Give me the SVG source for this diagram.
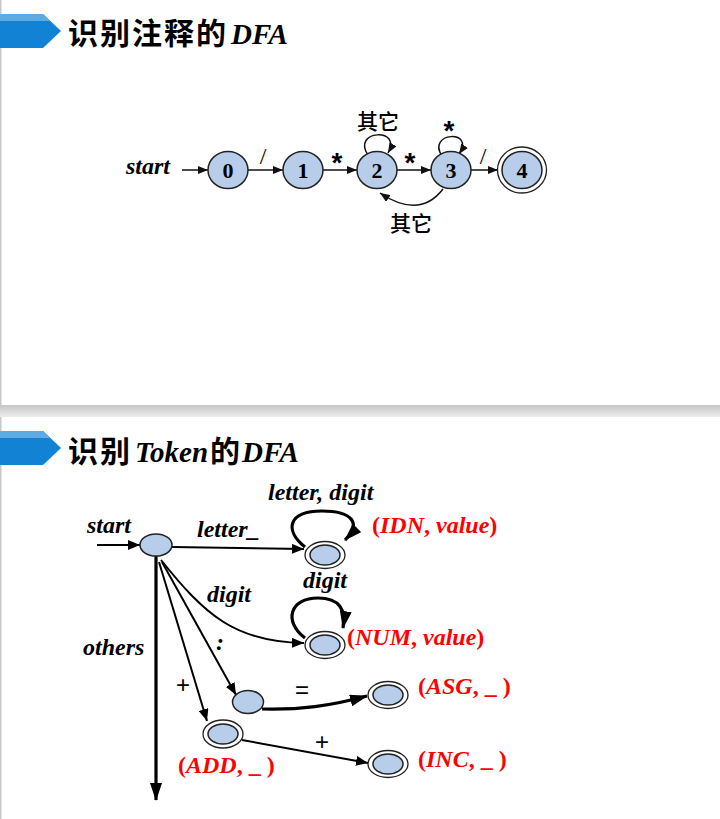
<svg xmlns="http://www.w3.org/2000/svg" width="720" height="819" viewBox="0 0 720 819">
<style>
.st{fill:#b7cdea;stroke:#222;stroke-width:1.5}
.ring{fill:#fff;stroke:#222;stroke-width:1.3}
.e{stroke:#111;stroke-width:1.5;fill:none}
.b{stroke:#000;stroke-width:2;fill:none}
.bt{stroke:#000;stroke-width:3.2;fill:none}
.num{font-family:"Liberation Serif",serif;font-weight:bold;font-size:22px;text-anchor:middle;fill:#000}
.sl{font-family:"Liberation Serif",serif;font-size:24px;text-anchor:middle;fill:#000}
.lab{font-family:"Liberation Serif",serif;font-weight:bold;font-style:italic;font-size:24px;fill:#000}
.red{font-family:"Liberation Serif",serif;font-weight:bold;font-size:24px;fill:#f00}
.it{font-style:italic}
.cn{font-family:"Noto Sans CJK SC",sans-serif;font-weight:500;font-size:21px;fill:#000;text-anchor:middle}
.ttl{font-family:"Noto Sans CJK SC",sans-serif;font-weight:bold;font-size:30px;fill:#000}
.ttle{font-family:"Liberation Serif",serif;font-weight:bold;font-style:italic;font-size:29px}
.sym{font-family:"Liberation Sans",sans-serif;font-size:24px;fill:#000;text-anchor:middle}
.ast{font-family:"Liberation Sans",sans-serif;font-weight:bold;font-size:28px;fill:#000;text-anchor:middle}
</style>
<defs>
<linearGradient id="sep" x1="0" y1="0" x2="0" y2="1">
<stop offset="0" stop-color="#c6c6c6"/>
<stop offset="1" stop-color="#ededed"/>
</linearGradient>
<marker id="a" markerUnits="userSpaceOnUse" markerWidth="10" markerHeight="8" refX="10" refY="4" orient="auto">
<path d="M0,0 L10,4 L0,8 z" fill="#111"/>
</marker>
<marker id="ab" markerUnits="userSpaceOnUse" markerWidth="12" markerHeight="10" refX="12" refY="5" orient="auto">
<path d="M0,0 L12,5 L0,10 z" fill="#000"/>
</marker>
<marker id="abig" markerUnits="userSpaceOnUse" markerWidth="18" markerHeight="12" refX="17" refY="6" orient="auto">
<path d="M0,0 L18,6 L0,12 z" fill="#000"/>
</marker>
</defs>
<rect width="720" height="819" fill="#fff"/>
<rect x="0" y="0" width="1.5" height="819" fill="#c8c8c8"/>
<rect x="0" y="405" width="720" height="12" fill="url(#sep)"/>
<g id="header1">
<polygon points="0,14 43,14 61,31 43,48 0,48" fill="#1283d4"/>
<polygon points="0,14 43,14 50,21 0,21" fill="#5eaae3"/>
<text y="44"><tspan class="ttl" x="68" letter-spacing="2">识别注释的</tspan><tspan class="ttle" x="231">DFA</tspan></text>
</g>
<g id="header2">
<polygon points="0,431 43,431 61,448 43,465 0,465" fill="#1283d4"/>
<polygon points="0,431 43,431 50,438 0,438" fill="#5eaae3"/>
<text y="462"><tspan class="ttl" x="68" letter-spacing="2">识别</tspan><tspan class="ttle" x="135">Token</tspan><tspan class="ttl" x="210">的</tspan><tspan class="ttle" x="242">DFA</tspan></text>
</g>
<g id="connectors">
<line class="e" x1="182" y1="170" x2="208" y2="170" marker-end="url(#a)"/>
<line class="e" x1="248" y1="170" x2="283" y2="170" marker-end="url(#a)"/>
<line class="e" x1="323" y1="170" x2="357" y2="170" marker-end="url(#a)"/>
<line class="e" x1="397" y1="170" x2="431" y2="170" marker-end="url(#a)"/>
<line class="e" x1="471" y1="170" x2="498" y2="170" marker-end="url(#a)"/>
<path class="e" d="M368,155 C351,130 403,127 388,153" marker-end="url(#a)"/>
<path class="e" d="M442,156 C426,132 476,129 459,154" marker-end="url(#a)"/>
<path class="e" d="M443,189 C430,206 410,213 380,193" marker-end="url(#a)"/>
<line class="b" x1="97" y1="545" x2="140" y2="545" marker-end="url(#ab)"/>
<line class="b" x1="172" y1="547" x2="304" y2="549" marker-end="url(#ab)"/>
<path class="bt" d="M305,547 C284,530 288,511 322,511 C352,511 362,523 345,540" marker-end="url(#abig)"/>
<path class="bt" d="M305,638 C283,621 290,598 318,598 C340,598 346,610 343,628" marker-end="url(#abig)"/>
<path class="b" d="M161,560 C205,615 235,642 304,643" marker-end="url(#ab)"/>
<line class="bt" x1="156" y1="556" x2="156" y2="800" marker-end="url(#abig)"/>
<line class="b" x1="162" y1="562" x2="236" y2="695" marker-end="url(#ab)"/>
<line class="b" x1="159" y1="562" x2="207" y2="721" marker-end="url(#ab)"/>
<path class="bt" d="M262,709 C300,710 330,706 367,696" marker-end="url(#abig)"/>
<line class="b" x1="242" y1="740" x2="368" y2="763" marker-end="url(#ab)"/>
</g>
<g id="edge-labels">
<text class="lab" x="126" y="174">start</text>
<text class="sl" x="263" y="164">/</text>
<text class="ast" x="337" y="172">*</text>
<text class="ast" x="410" y="172">*</text>
<text class="sl" x="483" y="164">/</text>
<text class="cn" x="378" y="129">其它</text>
<text class="ast" x="449" y="140">*</text>
<text class="cn" x="411" y="231">其它</text>
<text class="lab" x="87" y="533">start</text>
<text class="lab" x="197" y="537">letter_</text>
<text class="lab" x="268" y="500">letter, digit</text>
<text class="lab" x="303" y="588">digit</text>
<text class="lab" x="207" y="602">digit</text>
<text class="lab" x="83" y="655">others</text>
<text class="lab" x="220" y="650" text-anchor="middle" font-style="normal">:</text>
<text class="sym" x="183" y="693">+</text>
<text class="sym" x="302" y="698">=</text>
<text class="sym" x="322" y="750">+</text>
</g>
<g id="n0"><ellipse class="st" cx="228" cy="170" rx="20" ry="18.5"/><text class="num" x="228" y="178">0</text></g>
<g id="n1"><ellipse class="st" cx="303" cy="170" rx="20" ry="18.5"/><text class="num" x="303" y="178">1</text></g>
<g id="n2"><ellipse class="st" cx="377" cy="170" rx="20" ry="18.5"/><text class="num" x="377" y="178">2</text></g>
<g id="n3"><ellipse class="st" cx="451" cy="170" rx="20" ry="18.5"/><text class="num" x="451" y="178">3</text></g>
<g id="n4"><ellipse class="ring" cx="522" cy="170" rx="24.5" ry="23"/><ellipse class="st" cx="522" cy="170" rx="20" ry="18.5"/><text class="num" x="522" y="178">4</text></g>
<g id="s0"><ellipse class="st" cx="156" cy="545" rx="16" ry="11"/></g>
<g id="idn"><ellipse class="ring" cx="325" cy="555" rx="20" ry="13.5"/><ellipse class="st" cx="325" cy="555" rx="15" ry="10"/>
<text class="red" x="372" y="533">(<tspan class="it">IDN</tspan>, <tspan class="it">value</tspan>)</text></g>
<g id="num"><ellipse class="ring" cx="325" cy="645" rx="20" ry="13.5"/><ellipse class="st" cx="325" cy="645" rx="15" ry="10"/>
<text class="red" x="347" y="645">(<tspan class="it">NUM</tspan>, <tspan class="it">value</tspan>)</text></g>
<g id="colon"><ellipse class="st" cx="248" cy="702" rx="15.5" ry="11.5" stroke-width="2"/></g>
<g id="asg"><ellipse class="ring" cx="388" cy="695" rx="20" ry="13.5"/><ellipse class="st" cx="388" cy="695" rx="15" ry="10"/>
<text class="red" x="418" y="694">(<tspan class="it">ASG</tspan>, _ )</text></g>
<g id="add"><ellipse class="ring" cx="223" cy="734" rx="20" ry="14"/><ellipse class="st" cx="223" cy="734" rx="15" ry="10"/>
<text class="red" x="178" y="773">(<tspan class="it">ADD</tspan>, _ )</text></g>
<g id="inc"><ellipse class="ring" cx="388" cy="764" rx="20" ry="13.5"/><ellipse class="st" cx="388" cy="764" rx="15" ry="10"/>
<text class="red" x="418" y="767">(<tspan class="it">INC</tspan>, _ )</text></g>
</svg>
